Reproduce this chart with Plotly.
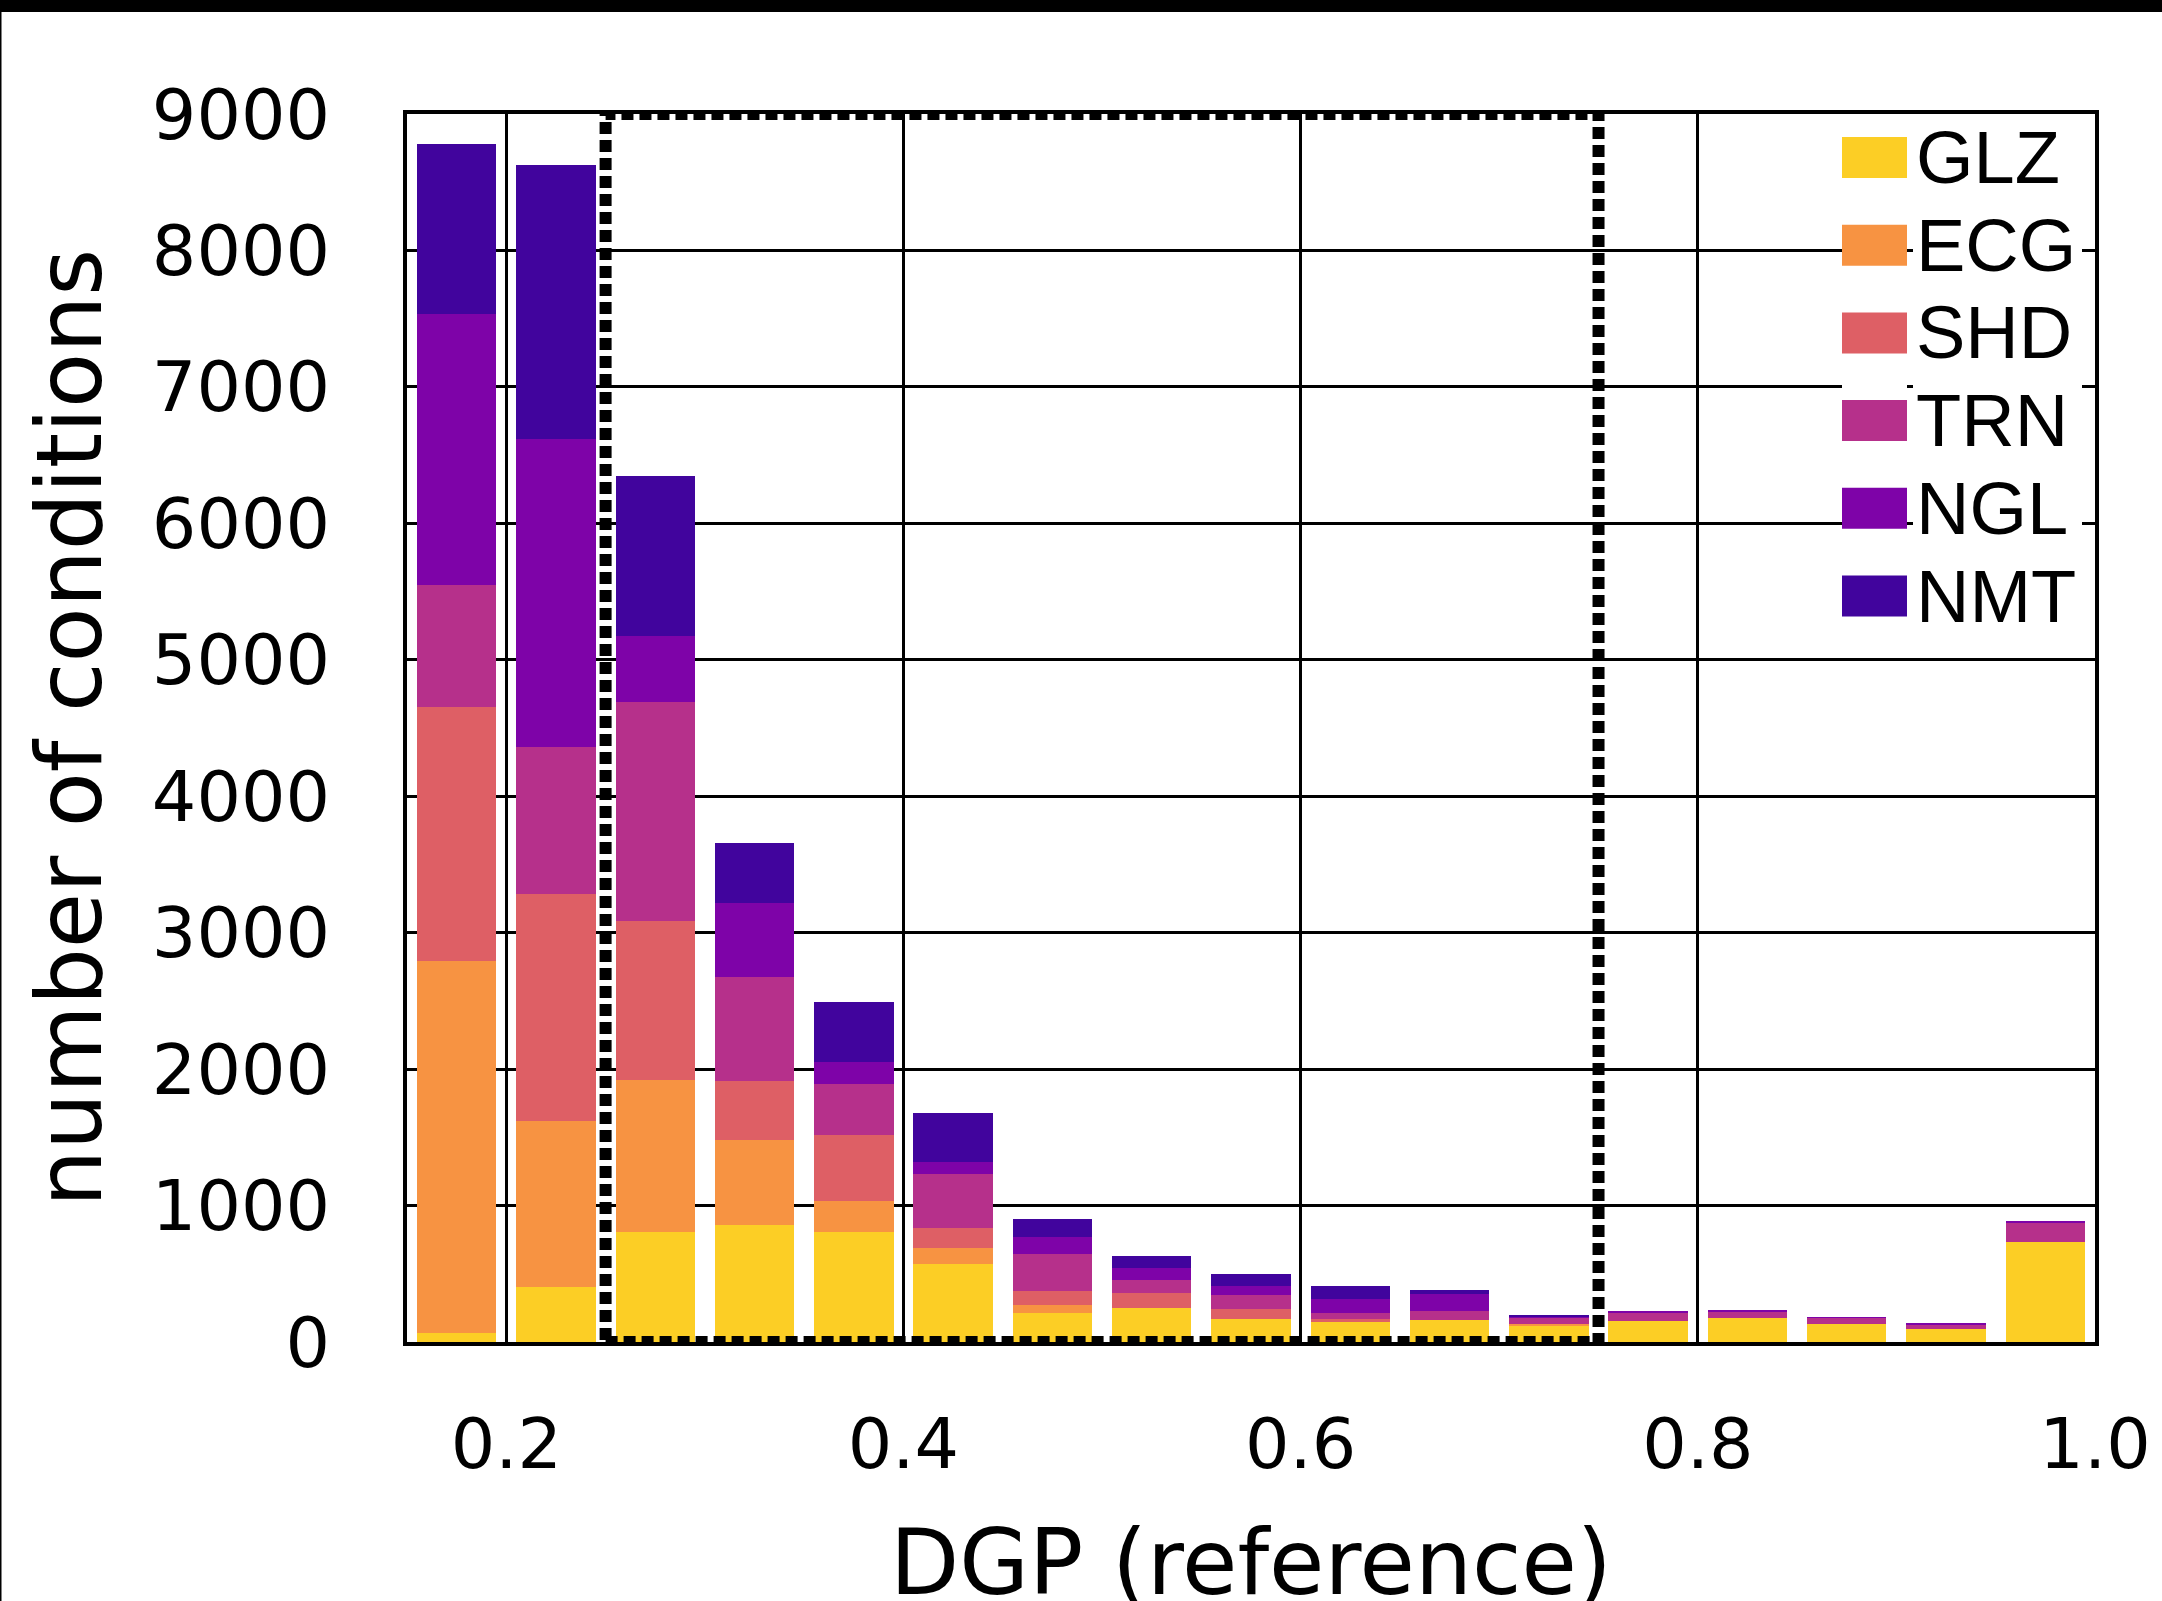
import plotly.graph_objects as go

# ---------------- data ----------------
dgp_bins = [0.175, 0.225, 0.275, 0.325, 0.375, 0.425, 0.475, 0.525, 0.575,
            0.625, 0.675, 0.725, 0.775, 0.825, 0.875, 0.925, 0.975]

GLZ = [65, 403, 808, 860, 808, 570, 214, 250, 170, 148, 161, 119, 153, 175, 131, 95, 732]
ECG = [2725, 1215, 1110, 618, 223, 116, 56, 0, 0, 0, 0, 10, 0, 0, 0, 0, 0]
SHD = [1865, 1668, 1169, 432, 485, 152, 102, 108, 73, 22, 0, 0, 0, 0, 0, 0, 0]
TRN = [890, 1072, 1606, 762, 372, 394, 272, 95, 103, 44, 65, 53, 66, 52, 47, 32, 145]
NGL = [1987, 2262, 483, 545, 162, 90, 124, 88, 66, 103, 124, 8, 7, 6, 5, 5, 6]
NMT = [1248, 2006, 1172, 441, 444, 356, 132, 88, 87, 95, 30, 7, 0, 0, 0, 0, 0]

series_names = ["GLZ", "ECG", "SHD", "TRN", "NGL", "NMT"]
series_values = [GLZ, ECG, SHD, TRN, NGL, NMT]
series_colors = ["#fcce25", "#f79342", "#de5f65", "#b6308b", "#7e03a8", "#41049d"]

x_tickvals = [0.2, 0.4, 0.6, 0.8, 1.0]
x_ticktext = ["0.2", "0.4", "0.6", "0.8", "1.0"]
y_tickvals = [0, 1000, 2000, 3000, 4000, 5000, 6000, 7000, 8000, 9000]
y_ticktext = ["0", "1000", "2000", "3000", "4000", "5000", "6000", "7000", "8000", "9000"]

x_title = "DGP (reference)"
y_title = "number of conditions"

region_x = [0.25, 0.75]
region_y = [0, 9000]

# ---------------- layout geometry ----------------
FIG_W, FIG_H = 2162, 1601
M_L, M_R, M_T, M_B = 407, 67, 114, 259
PW = FIG_W - M_L - M_R
PH = FIG_H - M_T - M_B


def px_x(px):
    return (px - M_L) / PW


def px_y(py):
    return (FIG_H - M_B - py) / PH


TICK_FONT = dict(family="DejaVu Sans", size=70, color="black")
TITLE_FONT = dict(family="DejaVu Sans", size=90, color="black")

fig = go.Figure()
for name, vals, col in zip(series_names, series_values, series_colors):
    fig.add_trace(go.Bar(
        x=dgp_bins, y=vals, name=name, width=0.04,
        marker=dict(color=col, line=dict(width=0)),
        showlegend=False,
    ))

fig.update_layout(
    width=FIG_W, height=FIG_H,
    margin=dict(l=M_L, r=M_R, t=M_T, b=M_B, pad=0),
    barmode="stack",
    paper_bgcolor="white", plot_bgcolor="white",
    font=dict(family="DejaVu Sans", color="black"),
)

fig.update_xaxes(
    range=[0.15, 1.0], tickmode="array", tickvals=x_tickvals, ticktext=x_ticktext,
    tickfont=TICK_FONT, ticks="", ticklabelstandoff=38,
    showgrid=True, gridcolor="black", gridwidth=2.5, zeroline=False,
    showline=True, linecolor="black", linewidth=4, mirror=True,
    automargin=False,
)
fig.update_yaxes(
    range=[0, 9000], tickmode="array", tickvals=y_tickvals, ticktext=y_ticktext,
    tickfont=TICK_FONT, ticks="", ticklabelstandoff=59,
    showgrid=True, gridcolor="black", gridwidth=2.5, zeroline=False,
    showline=True, linecolor="black", linewidth=4, mirror=True,
    title=dict(text=y_title, font=TITLE_FONT, standoff=21),
    automargin=False,
)

shapes = []
# dotted highlight region
shapes.append(dict(type="rect", xref="x", yref="y",
                   x0=region_x[0], x1=region_x[1], y0=region_y[0], y1=region_y[1],
                   line=dict(color="black", width=12, dash="12px,6px"),
                   fillcolor="rgba(0,0,0,0)", layer="above"))

# frame decorations (top band, left edge line)
shapes.append(dict(type="rect", xref="paper", yref="paper",
                   x0=px_x(0), x1=px_x(FIG_W), y0=px_y(12), y1=px_y(0),
                   fillcolor="black", line=dict(width=0), layer="above"))
shapes.append(dict(type="rect", xref="paper", yref="paper",
                   x0=px_x(0), x1=px_x(1.5), y0=px_y(FIG_H), y1=px_y(12),
                   fillcolor="black", line=dict(width=0), layer="above"))

annotations = []
# x-axis title (sits partly below the canvas edge, as in the reference)
annotations.append(dict(xref="paper", yref="paper", x=0.5, y=px_y(1510),
                        xanchor="center", yanchor="top", showarrow=False,
                        text=x_title, borderpad=0, borderwidth=0, font=TITLE_FONT))

# manual legend
LEG_BOX_X0, LEG_BOX_X1 = 1842, 1907
LEG_TXT_X = 1915
LEG_TOP = 137
LEG_ROW = 87.7
LEG_BOX_H = 41
n = len(series_names)
shapes.append(dict(type="rect", xref="paper", yref="paper",
                   x0=px_x(LEG_BOX_X0), x1=px_x(LEG_BOX_X1),
                   y0=px_y(LEG_TOP + LEG_ROW * n - 23), y1=px_y(LEG_TOP - 23),
                   fillcolor="white", line=dict(width=0), layer="above"))
shapes.append(dict(type="rect", xref="paper", yref="paper",
                   x0=px_x(1913), x1=px_x(2082),
                   y0=px_y(LEG_TOP + LEG_ROW * n - 23), y1=px_y(LEG_TOP - 23),
                   fillcolor="white", line=dict(width=0), layer="above"))
for i, (name, col) in enumerate(zip(series_names, series_colors)):
    top = LEG_TOP + LEG_ROW * i
    shapes.append(dict(type="rect", xref="paper", yref="paper",
                       x0=px_x(LEG_BOX_X0), x1=px_x(LEG_BOX_X1),
                       y0=px_y(top + LEG_BOX_H), y1=px_y(top),
                       fillcolor=col, line=dict(width=0), layer="above"))
    annotations.append(dict(xref="paper", yref="paper",
                            x=px_x(LEG_TXT_X), y=px_y(top + LEG_BOX_H / 2),
                            xanchor="left", yanchor="middle", showarrow=False,
                            text=name, borderpad=0,
                            font=dict(family="Liberation Sans, Arial", size=74, color="black")))

fig.update_layout(shapes=shapes, annotations=annotations)

fig.write_html("out.html", config={"displayModeBar": False},
               post_script="document.body.style.margin='0px';")
